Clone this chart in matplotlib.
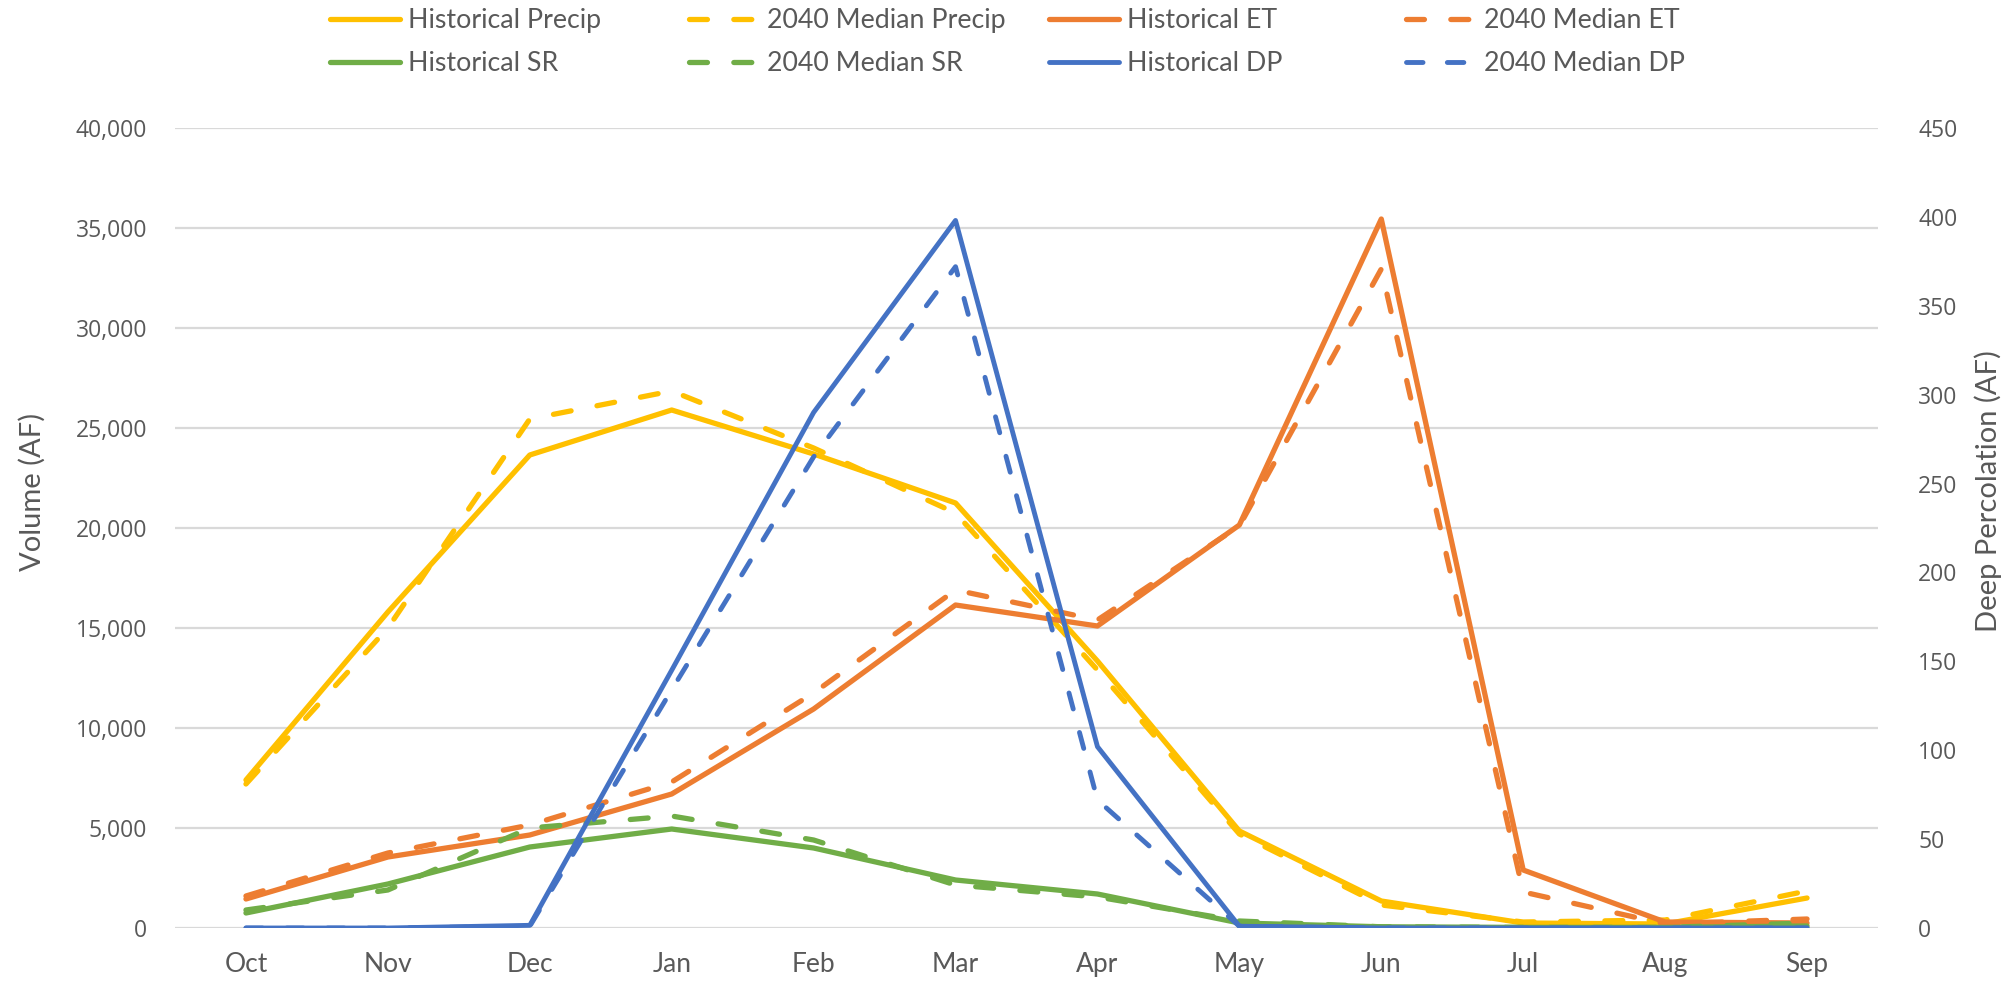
import matplotlib
matplotlib.use("Agg")
import matplotlib.pyplot as plt
from matplotlib.ticker import FuncFormatter, MultipleLocator

# ---- data ----
months = ['Oct', 'Nov', 'Dec', 'Jan', 'Feb', 'Mar', 'Apr', 'May', 'Jun', 'Jul', 'Aug', 'Sep']

hist_precip = [7400, 15800, 23650, 25900, 23700, 21250, 13350, 4850, 1350, 250, 200, 1500]
med_precip = [7200, 15000, 25450, 26850, 24000, 20750, 12900, 4700, 1150, 300, 400, 1850]
hist_et = [1450, 3550, 4650, 6700, 10950, 16150, 15100, 20150, 35450, 2900, 300, 250]
med_et = [1600, 3750, 5150, 7300, 11750, 16900, 15400, 20100, 32950, 1800, 200, 450]
hist_sr = [750, 2200, 4050, 4950, 4000, 2400, 1700, 250, 60, 30, 30, 100]
med_sr = [900, 1900, 5000, 5600, 4400, 2150, 1550, 350, 60, 30, 30, 250]
hist_dp = [0, 0, 1.5, 145, 290, 398, 102, 1, 0, 0, 0, 0]
med_dp = [0, 0, 1, 134, 265, 372, 72, 1, 0, 0, 0, 0]

YELLOW = '#FFC000'
ORANGE = '#ED7D31'
GREEN = '#70AD47'
BLUE = '#4472C4'
GRID = '#D9D9D9'
TXT = '#595959'

LABEL_FONT = ['Lato', 'DejaVu Sans']
NUM_FONT = ['Open Sans', 'DejaVu Sans']

W, H = 2015, 983
fig = plt.figure(figsize=(W / 100, H / 100), dpi=100)

left, right, top, bottom = 175, 1878, 128, 928
ax = fig.add_axes([left / W, 1 - bottom / H, (right - left) / W, (bottom - top) / H])
ax2 = ax.twinx()

x = list(range(len(months)))
LW = 3.8
DASH = (3.4, 5.0)


def style(col, ls, lab, lw):
    kw = dict(color=col, lw=lw, label=lab, solid_joinstyle='round', solid_capstyle='round')
    if ls == '--':
        kw.update(dashes=DASH, dash_capstyle='round', dash_joinstyle='round')
    return kw


series_left = [
    (hist_precip, YELLOW, '-', 'Historical Precip'),
    (med_precip, YELLOW, '--', '2040 Median Precip'),
    (hist_et, ORANGE, '-', 'Historical ET'),
    (med_et, ORANGE, '--', '2040 Median ET'),
    (hist_sr, GREEN, '-', 'Historical SR'),
    (med_sr, GREEN, '--', '2040 Median SR'),
]
handles = {}
for vals, col, ls, lab in series_left:
    line, = ax.plot(x, vals, **style(col, ls, lab, LW))
    handles[lab] = line

for vals, ls, lab in [(hist_dp, '-', 'Historical DP'), (med_dp, '--', '2040 Median DP')]:
    line, = ax2.plot(x, vals, **style(BLUE, ls, lab, LW - 0.3))
    handles[lab] = line

# ---- axes ----
ax.set_xlim(-0.5, len(months) - 0.5)
ax.set_ylim(0, 40000)
ax2.set_ylim(0, 450)
ax.yaxis.set_major_locator(MultipleLocator(5000))
ax2.yaxis.set_major_locator(MultipleLocator(50))
ax.yaxis.set_major_formatter(FuncFormatter(lambda v, p: f'{v:,.0f}'))
ax.grid(axis='y', color=GRID, lw=1.6, zorder=0)
ax.set_axisbelow(True)

for a in (ax, ax2):
    for s in a.spines.values():
        s.set_visible(False)
    a.tick_params(length=0)

ax.set_xticks(x)
ax.set_xticklabels(months, fontsize=19, color=TXT, family=LABEL_FONT)
ax.tick_params(axis='x', pad=17)
for t in ax.get_yticklabels() + ax2.get_yticklabels():
    t.set_fontsize(16.5)
    t.set_color(TXT)
    t.set_family(NUM_FONT)
ax.tick_params(axis='y', pad=20)
ax2.tick_params(axis='y', pad=29)

ax.set_ylabel('Volume (AF)', fontsize=21, color=TXT, family=LABEL_FONT)
ax2.set_ylabel('Deep Percolation (AF)', fontsize=21, color=TXT, family=LABEL_FONT)
ax.yaxis.set_label_coords(46 / W, 0.5, transform=fig.transFigure)
ax2.yaxis.set_label_coords(1974 / W, 0.5, transform=fig.transFigure)

# ---- legend: four columns of two rows ----
columns = [
    ('Historical Precip', 'Historical SR'),
    ('2040 Median Precip', '2040 Median SR'),
    ('Historical ET', 'Historical DP'),
    ('2040 Median ET', '2040 Median DP'),
]
col_x = [330, 689, 1049, 1406]
for cx, labs in zip(col_x, columns):
    leg = fig.legend([handles[l] for l in labs], labs, loc='upper left',
                     bbox_to_anchor=(cx / W, 1 - 8 / H), frameon=False,
                     borderpad=0, borderaxespad=0, handlelength=2.6,
                     handletextpad=0.3, labelspacing=0.68,
                     prop={'family': LABEL_FONT, 'size': 19.3})
    for t in leg.get_texts():
        t.set_color(TXT)

fig.savefig('out.png', dpi=100, facecolor='white')
